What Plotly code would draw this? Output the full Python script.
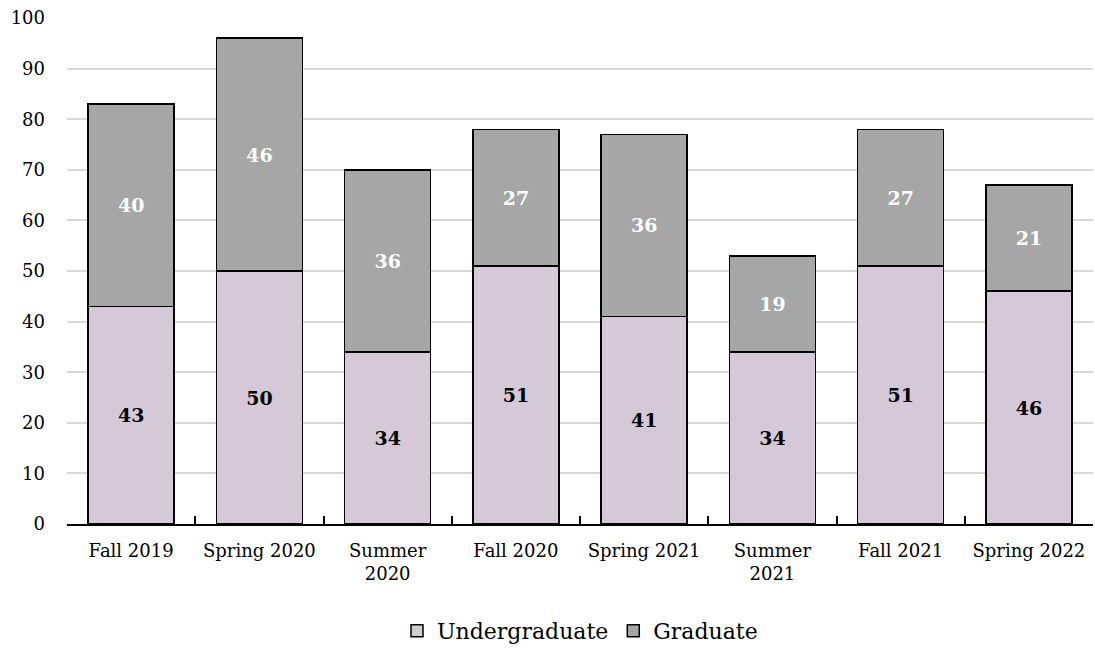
import plotly.graph_objects as go

terms = ["Fall 2019", "Spring 2020", "Summer<br>2020", "Fall 2020",
         "Spring 2021", "Summer<br>2021", "Fall 2021", "Spring 2022"]
undergraduate = [43, 50, 34, 51, 41, 34, 51, 46]
graduate = [40, 46, 36, 27, 36, 19, 27, 21]

FONT = "DejaVu Serif"

fig = go.Figure()
fig.add_trace(go.Bar(
    name="Undergraduate", x=terms, y=undergraduate,
    marker=dict(color="#d5c9d7", line=dict(color="black", width=1.5)),
    text=undergraduate, textposition="inside", insidetextanchor="middle",
    textfont=dict(family=FONT, size=19, color="black", weight="bold"),
    textangle=0,
))
fig.add_trace(go.Bar(
    name="Graduate", x=terms, y=graduate,
    marker=dict(color="#a6a6a6", line=dict(color="black", width=1.5)),
    text=graduate, textposition="inside", insidetextanchor="middle",
    textfont=dict(family=FONT, size=19, color="white", weight="bold"),
    textangle=0,
))

fig.update_layout(
    barmode="stack",
    bargap=0.33,
    width=1095, height=654,
    margin=dict(l=67, r=2, t=18, b=128),
    paper_bgcolor="white", plot_bgcolor="white",
    font=dict(family=FONT, size=18, color="black"),
    legend=dict(orientation="h", x=0.5, xanchor="center", y=-0.17, yanchor="top",
                font=dict(size=22), itemwidth=30, traceorder="normal"),
    xaxis=dict(
        automargin=False,
        showline=True, linecolor="black", linewidth=2,
        ticks="inside", tickson="boundaries", ticklen=8, tickcolor="black", tickwidth=1.5,
        showgrid=False, tickfont=dict(size=18), ticklabelstandoff=9, tickangle=0,
    ),
    yaxis=dict(
        automargin=False,
        range=[0, 100], dtick=10, showgrid=True, gridcolor="#d9d9d9", gridwidth=1.5,
        showline=False, zeroline=False, ticks="", ticklabelstandoff=21,
        tickfont=dict(size=18),
    ),
)

fig.write_html("out.html")
